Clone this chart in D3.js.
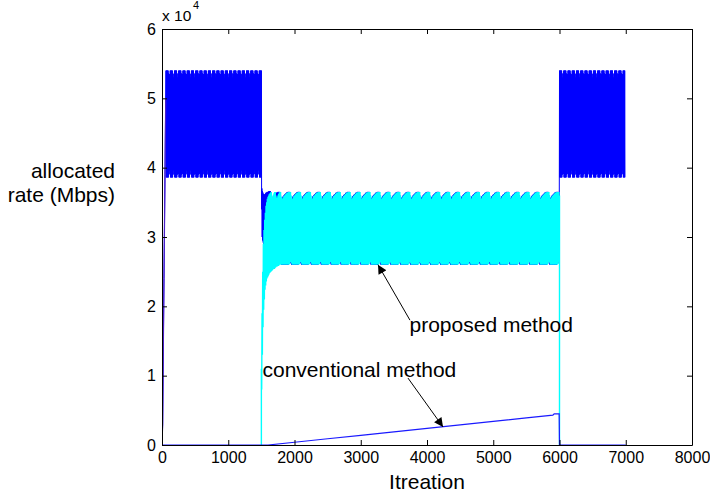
<!DOCTYPE html>
<html>
<head>
<meta charset="utf-8">
<script src="https://cdn.jsdelivr.net/npm/d3@7"></script>
<style>
  html, body { margin:0; padding:0; background:#fff; }
  svg text { font-family: "Liberation Sans", Arial, sans-serif; fill:#000; }
</style>
</head>
<body>
<svg id="chart" width="710" height="497"></svg>
<script>
// axis ticks
const iterTicks = [0, 1000, 2000, 3000, 4000, 5000, 6000, 7000, 8000];
const rateTicks = [0, 1, 2, 3, 4, 5, 6];   // x 10^4

// proposed method, user 1 (blue): start-up ramp
const blueRampIter = [0, 10, 20, 30, 45, 56];
const blueRampVal  = [0, 0.30, 1.40, 2.40, 3.90, 5.00];
// one observed oscillation period of the blue steady state (8 peaks / 8 troughs, 64 iterations)
const bluePeaks   = [5.40, 5.40, 5.40, 5.40, 5.40, 5.36, 5.30, 5.35];
const blueTroughs = [3.86, 3.86, 3.86, 3.86, 3.86, 3.90, 3.96, 3.91];
const blueSteadyFrom = [60, 6000];
const blueSteadyTo   = [1500, 6990];
// blue drop after user 2 joins (peaks at 1500+8k, troughs at 1504+8k)
const blueDropPeaks   = [5.40, 3.70, 3.66, 3.64, 3.62, 3.62, 3.60, 3.62, 3.63, 3.64, 3.64, 3.65, 3.65, 3.65, 3.66, 3.66, 3.66, 3.66];
const blueDropTroughs = [3.40, 3.00, 2.95, 2.92, 2.90, 2.88, 2.80, 2.70, 2.65, 2.60, 2.60, 2.60, 2.60, 2.60, 2.60, 2.60, 2.60, 2.60];

// proposed method, user 2 (cyan): rise (peaks at 1510+10k, troughs at 1505+10k)
const cyanRisePeaks = [1.90, 2.50, 2.90, 3.10, 3.25, 3.35, 3.45, 3.50, 3.55, 3.58, 3.60, 3.62, 3.63, 3.64, 3.65,
                       3.55, 3.58, 3.61, 3.63, 3.65, 3.65, 3.60, 3.54, 3.57, 3.60, 3.62, 3.64, 3.65, 3.65, 3.58];
const cyanRiseTroughs = [0.80, 1.30, 1.70, 1.95, 2.10, 2.24, 2.30, 2.36, 2.40, 2.42, 2.44, 2.46, 2.48, 2.49, 2.50,
                         2.51, 2.52, 2.53, 2.54, 2.54, 2.55, 2.56, 2.57, 2.57, 2.58, 2.58, 2.59, 2.60, 2.60, 2.60];
// one observed oscillation period of the cyan steady state (15 peaks / 15 troughs, 150 iterations)
const cyanPeaks   = [3.52, 3.55, 3.57, 3.59, 3.60, 3.61, 3.62, 3.63, 3.64, 3.64, 3.65, 3.65, 3.65, 3.65, 3.60];
const cyanTroughs = [2.60, 2.60, 2.60, 2.60, 2.60, 2.60, 2.60, 2.60, 2.60, 2.60, 2.60, 2.61, 2.64, 2.66, 2.62];

// conventional method
const convIter = [0, 1600, 2000, 2500, 3000, 3500, 4000, 4500, 5000, 5500, 5900, 5920, 5995, 6000, 7000];
const convVal  = [0, 0, 0.04, 0.09, 0.14, 0.19, 0.24, 0.29, 0.34, 0.39, 0.43, 0.45, 0.45, 0, 0];

// annotations (data units)
const annoText = ["proposed method", "conventional method"];
const annoAt   = [[3736, 1.63], [1517, 0.98]];
const arrowFrom = [[3743, 1.80], [3713, 0.965]];
const arrowTo   = [[3260, 2.60], [4242, 0.26]];

const W = 710, H = 497;
const m = { top: 29, right: 18, bottom: 52, left: 162 };
const svg = d3.select("#chart");
const x = d3.scaleLinear().domain([0, 8000]).range([m.left, W - m.right]);
const y = d3.scaleLinear().domain([0, 6]).range([H - m.bottom, m.top]);

svg.append("defs").append("clipPath").attr("id", "plot")
  .append("rect").attr("x", m.left).attr("y", m.top)
  .attr("width", W - m.left - m.right).attr("height", H - m.top - m.bottom);

// repeat one observed period over [from, to]
function tile(from, to, peaks, troughs, step) {
  const pts = [];
  let k = 0;
  for (let it = from; it <= to; it += 2 * step, k++) {
    pts.push([it, peaks[k % peaks.length]]);
    if (it + step <= to) pts.push([it + step, troughs[k % troughs.length]]);
  }
  return pts;
}
function interleave(t0, step, peaks, troughs, troughFirst) {
  const pts = [];
  for (let k = 0; k < peaks.length; k++) {
    if (troughFirst) { pts.push([t0 + 2*step*k, troughs[k]]); pts.push([t0 + 2*step*k + step, peaks[k]]); }
    else { pts.push([t0 + 2*step*k, peaks[k]]); pts.push([t0 + 2*step*k + step, troughs[k]]); }
  }
  return pts;
}

// blue series
let blue = blueRampIter.map((d, i) => [d, blueRampVal[i]]);
blue = blue.concat(tile(blueSteadyFrom[0], blueSteadyTo[0], bluePeaks, blueTroughs, 4));
blue = blue.concat(interleave(1500, 4, blueDropPeaks, blueDropTroughs, false));
blue = blue.concat(tile(1650, 5995, cyanPeaks, cyanTroughs, 5));
blue = blue.concat(tile(blueSteadyFrom[1], blueSteadyTo[1], bluePeaks, blueTroughs, 4));

// cyan series
let cyan = [[1500, 0], [1500, 1.1]];
cyan = cyan.concat(interleave(1505, 5, cyanRisePeaks, cyanRiseTroughs, true));
cyan = cyan.concat(tile(1810, 6000, cyanPeaks, cyanTroughs, 5));
cyan.push([6000, 0]);

const conv = convIter.map((d, i) => [d, convVal[i]]);

const line = d3.line().x(d => x(d[0])).y(d => y(d[1]));
const plot = svg.append("g").attr("clip-path", "url(#plot)");
plot.append("path").attr("d", line(blue)).attr("fill", "none").attr("stroke", "#0000ff").attr("stroke-width", 1);
plot.append("path").attr("d", line(blueRampIter.map((d, i) => [d, blueRampVal[i]])))
  .attr("fill", "none").attr("stroke", "#4a1fc8").attr("stroke-width", 1.2);
plot.append("path").attr("d", line(cyan)).attr("fill", "none").attr("stroke", "#00ffff").attr("stroke-width", 1.4);
plot.append("path").attr("d", line(conv)).attr("fill", "none").attr("stroke", "#1a1aff").attr("stroke-width", 1.2);

// axes (MATLAB style box, inward ticks)
const H0 = H - m.bottom, W0 = W - m.right;
const fmt = d3.format("d");
function styleAxis(g) {
  g.selectAll(".domain").attr("stroke", "#000").attr("stroke-width", 1);
  g.selectAll(".tick line").attr("stroke", "#000");
  g.selectAll(".tick text").style("font-size", "16px").attr("fill", "#000");
}
svg.append("g").attr("transform", `translate(0,${H0})`)
  .call(d3.axisBottom(x).tickValues(iterTicks).tickFormat(fmt).tickSize(-5).tickSizeOuter(0).tickPadding(7))
  .call(styleAxis);
svg.append("g").attr("transform", `translate(0,${m.top})`)
  .call(d3.axisTop(x).tickValues(iterTicks).tickSize(-5).tickSizeOuter(0).tickFormat(""))
  .call(styleAxis);
svg.append("g").attr("transform", `translate(${m.left},0)`)
  .call(d3.axisLeft(y).tickValues(rateTicks).tickFormat(fmt).tickSize(-5).tickSizeOuter(0).tickPadding(6))
  .call(styleAxis);
svg.append("g").attr("transform", `translate(${W0},0)`)
  .call(d3.axisRight(y).tickValues(rateTicks).tickSize(-5).tickSizeOuter(0).tickFormat(""))
  .call(styleAxis);

// exponent
svg.append("text").attr("x", m.left).attr("y", 21).style("font-size", "15.5px").text("x 10");
svg.append("text").attr("x", 193).attr("y", 9).style("font-size", "11px").text("4");

// axis labels
svg.append("text").attr("x", (m.left + W0) / 2).attr("y", 489).attr("text-anchor", "middle")
  .style("font-size", "21px").text("Itreation");
svg.append("text").attr("x", 115).attr("y", 178).attr("text-anchor", "end").style("font-size", "21px").text("allocated");
svg.append("text").attr("x", 115).attr("y", 202).attr("text-anchor", "end").style("font-size", "21px").text("rate (Mbps)");

// annotations
svg.select("defs").append("marker").attr("id", "ah").attr("viewBox", "0 0 10 10")
  .attr("refX", 10).attr("refY", 5).attr("markerWidth", 11).attr("markerHeight", 9)
  .attr("markerUnits", "userSpaceOnUse").attr("orient", "auto")
  .append("path").attr("d", "M0,0 L10,5 L0,10 z").attr("fill", "#000");
annoText.forEach((t, i) => {
  svg.append("text").attr("x", x(annoAt[i][0])).attr("y", y(annoAt[i][1])).style("font-size", "21px").text(t);
  svg.append("line")
    .attr("x1", x(arrowFrom[i][0])).attr("y1", y(arrowFrom[i][1]))
    .attr("x2", x(arrowTo[i][0])).attr("y2", y(arrowTo[i][1]))
    .attr("stroke", "#000").attr("stroke-width", 1).attr("marker-end", "url(#ah)");
});
</script>
</body>
</html>
